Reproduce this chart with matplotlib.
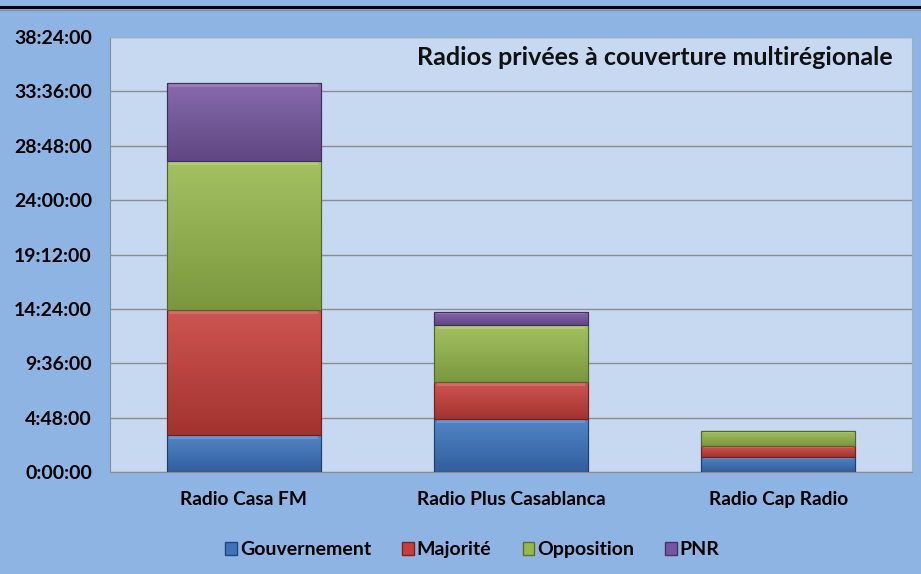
import matplotlib
matplotlib.use("Agg")
import matplotlib.pyplot as plt
import numpy as np
from matplotlib.ticker import FixedLocator, FuncFormatter
from matplotlib.colors import to_rgb
from matplotlib.lines import Line2D
from matplotlib.patches import Patch

plt.rcParams['font.family'] = ['Lato', 'DejaVu Sans']

categories = ["Radio Casa FM", "Radio Plus Casablanca", "Radio Cap Radio"]
series_names = ["Gouvernement", "Majorité", "Opposition", "PNR"]
# durations in hours
gouvernement = [3.25, 4.66, 1.33]
majorite = [11.06, 3.25, 0.94]
opposition = [13.12, 5.07, 1.36]
pnr = [6.87, 1.18, 0.0]
series = [gouvernement, majorite, opposition, pnr]
colors = ["#3B74BE", "#C73E3A", "#97B94C", "#7656A0"]
tick_hours = [0, 4.8, 9.6, 14.4, 19.2, 24.0, 28.8, 33.6, 38.4]
title = "Radios privées à couverture multirégionale"

def fmt(v, pos=None):
    s = int(round(v * 3600))
    h = s // 3600
    m = (s % 3600) // 60
    sec = s % 60
    return f"{h}:{m:02d}:{sec:02d}"

fig = plt.figure(figsize=(9.21, 5.74), dpi=100, facecolor="#8EB4E3")
ax = fig.add_axes([110/921, 1 - 472/574, 802/921, 435/574])
ax.set_facecolor("#C6D9F1")

x = np.arange(len(categories))
width = 0.575
bottom = np.zeros(len(categories))

def shade(c, f):
    r = np.array(to_rgb(c))
    if f >= 0:
        return tuple(r + (1 - r) * f)
    return tuple(r * (1 + f))

for vals, col in zip(series, colors):
    bars = ax.bar(x, vals, width, bottom=bottom, color=col,
                  edgecolor=shade(col, -0.45), linewidth=0.8, zorder=3)
    for b in bars:
        h = b.get_height()
        if h <= 0:
            continue
        x0 = b.get_x()
        y0 = b.get_y()
        n = 64
        grad = np.linspace(0, 1, n)[:, None]
        top_c = np.array(shade(col, 0.12))
        bot_c = np.array(shade(col, -0.18))
        img = bot_c[None, None, :] * (1 - grad[:, :, None]) + top_c[None, None, :] * grad[:, :, None]
        img = np.repeat(img, 2, axis=1)
        im = ax.imshow(img, extent=[x0, x0 + width, y0, y0 + h], origin="lower",
                       aspect="auto", zorder=3.5, interpolation="bilinear")
        im.set_clip_path(b)
        band = min(0.35, h * 0.15)
        ax.fill_between([x0 + 0.01, x0 + width - 0.01], y0 + h - band, y0 + h - 0.02,
                        color=shade(col, 0.35), alpha=0.55, zorder=3.6, linewidth=0)
        ax.add_patch(plt.Rectangle((x0, y0), width, h, fill=False,
                                   edgecolor=shade(col, -0.45), linewidth=0.8, zorder=3.7))
    bottom = bottom + np.array(vals)

ax.set_xlim(-0.5, len(categories) - 0.5)
ax.set_ylim(0, 38.4)
ax.yaxis.set_major_locator(FixedLocator(tick_hours))
ax.yaxis.set_major_formatter(FuncFormatter(fmt))
ax.grid(axis="y", color="#8C8C8C", linewidth=1.0, zorder=0)
ax.set_axisbelow(True)
ax.set_xticks(x)
ax.set_xticklabels(categories, fontsize=13.8, fontweight="bold")
ax.tick_params(axis="x", length=0, pad=14)
ax.tick_params(axis="y", length=0, pad=13, labelsize=14)
for t in ax.get_yticklabels():
    t.set_fontweight("bold")
for side in ["top", "right"]:
    ax.spines[side].set_color("#9AAFC8")
ax.spines["left"].set_color("#8C8C8C")
ax.spines["bottom"].set_color("#8C8C8C")

ax.text(0.976, 0.952, title, transform=ax.transAxes, ha="right", va="center",
        fontsize=18, fontweight="bold", color="#111111")

handles = [Patch(facecolor=c, edgecolor=shade(c, -0.4), label=n) for c, n in zip(colors, series_names)]
fig.legend(handles=handles, loc="center", bbox_to_anchor=(0.513, 0.042), ncol=4,
           frameon=False, prop={"weight": "bold", "size": 14}, handlelength=0.6,
           handleheight=0.6, handletextpad=0.15, columnspacing=1.6)

fig.add_artist(Line2D([0, 1], [1 - 7/574, 1 - 7/574], color="black", linewidth=2.2,
                      transform=fig.transFigure))
fig.add_artist(Line2D([0, 1], [1 - 10/574, 1 - 10/574], color="#7F8FA6", linewidth=1.0,
                      transform=fig.transFigure))

fig.savefig("out.png", dpi=100, facecolor=fig.get_facecolor())
